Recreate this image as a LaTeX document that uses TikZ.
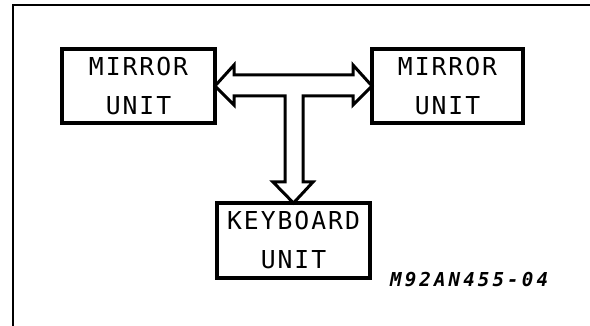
\documentclass[tikz,border=0pt]{standalone}
\usepackage{fontspec}
\newfontfamily\plotfont[LetterSpace=8]{DejaVu Sans Mono}
\newfontfamily\tagfont[LetterSpace=16]{DejaVu Sans Mono}
\tikzset{
unitbox/.style={draw,line width=4pt,inner sep=0pt,outer sep=0pt,
  minimum width=153pt,minimum height=74pt,align=center,
  font=\plotfont\fontsize{24.7}{39}\selectfont},
busarrow/.style={line width=3pt,line join=miter}
}
\begin{document}
\begin{tikzpicture}[x=1pt,y=-1pt]
\clip (0,0) rectangle (590,326);

% draw frame
\draw[line width=2pt] (13,5) rectangle (600,340);

% draw units
\node[unitbox] (mirrorleft) at (138.5,86) {MIRROR\\UNIT};
\node[unitbox,minimum width=151pt] (mirrorright) at (447.5,86) {MIRROR\\UNIT};
\node[unitbox,minimum height=75pt] (keyboard) at (293.5,240.5) {KEYBOARD\\UNIT};

% draw bus arrow
\draw[busarrow] (mirrorleft.east) -- (234,65) -- (234,75) -- (353,75) -- (353,65)
  -- (mirrorright.west) -- (353,105) -- (353,96) -- (303,96) -- (303,182)
  -- (313,182) -- (keyboard.north) -- (273,182) -- (285,182) -- (285,96)
  -- (234,96) -- (234,105) -- cycle;

% draw drawing number
\node[anchor=base west,inner sep=0pt,font=\tagfont\bfseries\itshape\fontsize{19.2}{20}\selectfont]
  (tag) at (390,287) {M92AN455-04};
\end{tikzpicture}
\end{document}
